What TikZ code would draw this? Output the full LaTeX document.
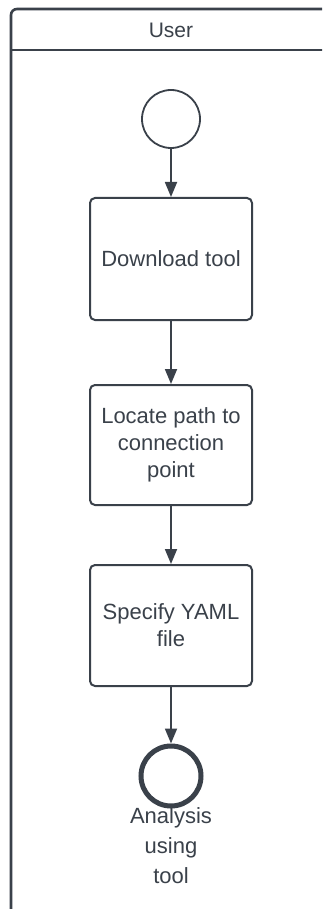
\documentclass[tikz,border=0pt]{standalone}
\usepackage{fontspec}
\setmainfont{Liberation Sans}
\usetikzlibrary{arrows.meta}
\definecolor{ink}{HTML}{3A414A}
\tikzset{
  lane/.style={draw=ink, line width=2.6pt, rounded corners=6pt},
  stepbox/.style={draw=ink, line width=2pt, rounded corners=5pt, fill=white,
    minimum width=162pt, align=center, text=ink,
    font=\fontsize{22}{26.8}\selectfont},
  startnode/.style={circle, draw=ink, line width=1.8pt, minimum size=58pt, inner sep=0pt},
  endnode/.style={circle, draw=ink, line width=5pt, minimum size=60pt, inner sep=0pt},
  caption/.style={align=center, text=ink, font=\fontsize{22}{30}\selectfont},
  flow/.style={draw=ink, line width=1.8pt, -{Triangle[length=15pt,width=12pt]}},
}
\begin{document}
\begin{tikzpicture}[x=1pt,y=-1pt]
\useasboundingbox (0,0) rectangle (322,909);
\fill[white] (0,0) rectangle (322,909);
% swimlane, running past the right and bottom edges
\begin{scope}
  \clip (0,0) rectangle (322,909);
  \draw[lane] (11,930) -- (11,9) -- (340,9);
  \draw[draw=ink, line width=2.6pt] (11,50) -- (340,50);
\end{scope}
\node[text=ink, font=\fontsize{21}{25}\selectfont] (lanetitle) at (171,30) {User};
% activity flow
\node[startnode] (start) at (171,119) {};
\node[stepbox, minimum height=122pt] (b1) at (171,259) {Download tool};
\node[stepbox, minimum height=120pt] (b2) at (171,445) {Locate path to\\connection\\point};
\node[stepbox, minimum height=121pt] (b3) at (171,625.5) {Specify YAML\\file};
\node[endnode] (finish) at (171,776) {};
\node[caption, anchor=north] (finishlabel) at (171,804) {Analysis\\using\\tool};
\draw[flow] (start) -- (b1);
\draw[flow] (b1) -- (b2);
\draw[flow] (b2) -- (b3);
\draw[flow] (b3) -- (finish);
\end{tikzpicture}
\end{document}
